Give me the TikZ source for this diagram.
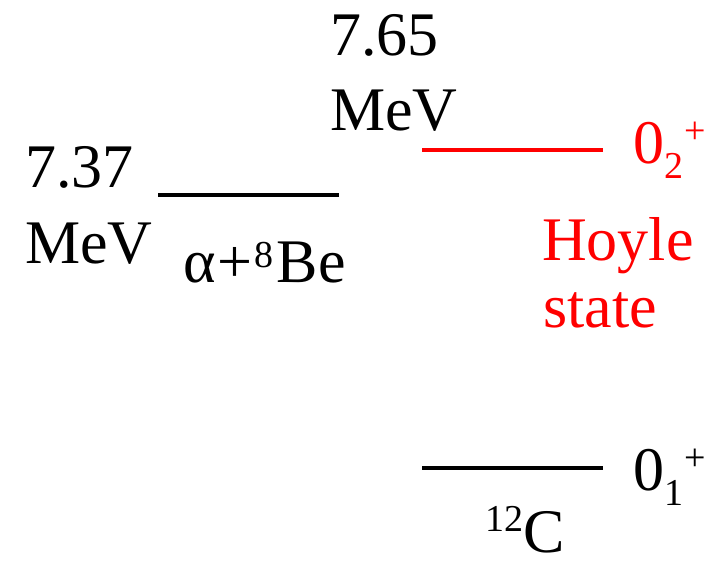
\documentclass[tikz,border=0pt]{standalone}
\usepackage{fontspec}
\setmainfont{Liberation Serif}
\usetikzlibrary{positioning}
\newcommand{\smallfig}[1]{{\fontsize{38}{38}\selectfont #1}}
\newcommand{\lowfig}[1]{\raisebox{-15pt}{\smallfig{#1}}}
\newcommand{\highfig}[1][20pt]{\kern1pt\raisebox{#1}{\smallfig{+}}}
\newcommand{\isofig}[2]{\raisebox{#1}{\smallfig{#2}}}

\begin{document}
\begin{tikzpicture}[
  x=1pt, y=-1pt,
  every node/.style={inner sep=0pt, anchor=base west, font=\fontsize{62}{62}\selectfont},
  level/.style={line width=3.6pt},
  hoyle/.style={red}
]
  \useasboundingbox (0,0) rectangle (721,562);

  % alpha + 8Be threshold
  \coordinate (thrL) at (158,195);
  \coordinate (thrR) at (339,195);
  \draw[level] (thrL) -- (thrR);
  \node (e737)  at (25,187) {7.37};
  \node (m737)  at (25,263) {MeV};
  \node (abe)   at (183,282) {α\kern2pt+\kern2pt\isofig{15pt}{8}\kern3pt Be};

  % Hoyle state
  \coordinate (hoyL) at (422,150);
  \coordinate (hoyR) at (603,150);
  \draw[level,hoyle] (hoyL) -- (hoyR);
  \node (e765)  at (330,55)  {7.65};
  \node (m765)  at (330,130) {MeV};
  \node[hoyle] (spin2) at (633,163) {0\lowfig{2}\highfig};
  \node[hoyle] (hname) at (542,260) {Hoyle};
  \node[hoyle] (hstate) at (543,327) {state};

  % ground state
  \coordinate (gsL) at (422,468);
  \coordinate (gsR) at (603,468);
  \draw[level] (gsL) -- (gsR);
  \node (spin1) at (633,490) {0\lowfig{1}\highfig};
  \node (c12)   at (485,552) {\isofig{21pt}{12}C};
\end{tikzpicture}
\end{document}
